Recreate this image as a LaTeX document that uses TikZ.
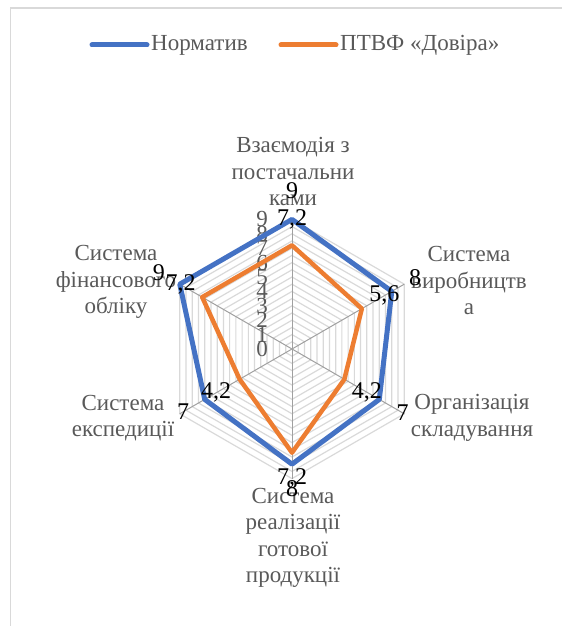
\documentclass[tikz,border=0pt]{standalone}
\usepackage{fontspec}
\setmainfont{Liberation Serif}
\definecolor{normblue}{HTML}{4472C4}
\definecolor{dovorange}{HTML}{ED7D31}
\definecolor{txtgray}{HTML}{595959}
\definecolor{gridgray}{HTML}{D9D9D9}
\definecolor{spokegray}{HTML}{A0A0A0}

\begin{document}
\begin{tikzpicture}[x=1pt,y=1pt,
  every node/.style={font=\fontsize{23}{26.5}\selectfont, inner sep=0pt},
  cat/.style={text=txtgray, align=center},
  val/.style={text=black, font=\fontsize{24}{26}\selectfont},
  gridline/.style={gridgray, line width=1.2pt},
  spoke/.style={spokegray, line width=1pt},
  normline/.style={normblue, line width=5pt, line join=round},
  dovline/.style={dovorange, line width=4.5pt, line join=round}]
 \useasboundingbox (0,0) rectangle (562,626);
 % frame
 \draw[gridgray, line width=1.5pt] (10.5,0) -- (10.5,618) -- (562,618);
 % legend
 \coordinate (lgA) at (92,581);
 \coordinate (lgB) at (147,581);
 \coordinate (lgC) at (281,581);
 \coordinate (lgD) at (336,581);
 \draw[normline, line cap=round] (lgA) -- (lgB);
 \node[anchor=west, text=txtgray] (legnorm) at (151,581) {Норматив};
 \draw[dovline, line cap=round, line width=5pt] (lgC) -- (lgD);
 \node[anchor=west, text=txtgray] (legdov) at (340,581) {ПТВФ «Довіра»};

 \coordinate (c) at (292,277);
 \def\rs{14.4}
 \begin{scope}[shift={(c)}]
   % grid
   \foreach \r in {0.5,1,...,9}
     \draw[gridline] (90:\r*\rs) -- (30:\r*\rs) -- (-30:\r*\rs) -- (-90:\r*\rs) -- (210:\r*\rs) -- (150:\r*\rs) -- cycle;
   \foreach \a in {90,30,-30,-90,210,150}
     \draw[spoke] (0,0) -- (\a:9*\rs);
   % value axis
   \foreach \v in {0,...,9}
     \node[anchor=east, text=txtgray] (ax\v) at (-24,\v*\rs) {\v};
   % series
   \draw[normline] (90:9*\rs) -- (30:8*\rs) -- (-30:7*\rs) -- (-90:8*\rs) -- (210:7*\rs) -- (150:9*\rs) -- cycle;
   \draw[dovline] (90:7.2*\rs) -- (30:5.6*\rs) -- (-30:4.2*\rs) -- (-90:7.2*\rs) -- (210:4.2*\rs) -- (150:7.2*\rs) -- cycle;
   % categories
   \node[cat] (kpost) at (1,177) {Взаємодія з\\постачальни\\ками};
   \node[cat] (kvyr) at (177,68) {Система\\виробництв\\а};
   \node[cat] (korg) at (180,-69) {Організація\\складування};
   \node[cat] (kreal) at (1,-189) {Система\\реалізації\\готової\\продукції};
   \node[cat] (kexp) at (-169,-69) {Система\\експедиції};
   \node[cat] (kfin) at (-176,67) {Система\\фінансового\\обліку};
   % data labels
   \node[val] (nA) at (90:9*\rs+29) {9};
   \node[val] (nB) at (30:8*\rs+27) {8};
   \node[val] (nC) at (-30:7*\rs+27) {7};
   \node[val] (nD) at (-90:8*\rs+24) {8};
   \node[val] (nE) at (210:7*\rs+25) {7};
   \node[val] (nF) at (150:9*\rs+24) {9};
   \node[val] (dA) at (90:7.2*\rs+26) {7,2};
   \node[val] (dB) at (30:5.6*\rs+26) {5,6};
   \node[val] (dC) at (-30:4.2*\rs+26) {4,2};
   \node[val] (dD) at (-90:7.2*\rs+26) {7,2};
   \node[val] (dE) at (210:4.2*\rs+27) {4,2};
   \node[val] (dF) at (150:7.2*\rs+25) {7,2};
 \end{scope}
\end{tikzpicture}
\end{document}
